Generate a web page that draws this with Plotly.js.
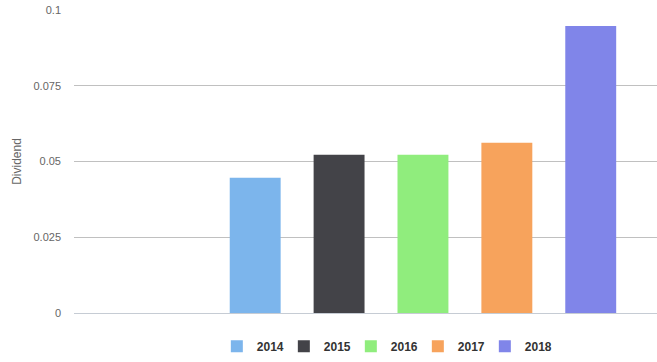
<!DOCTYPE html>
<html><head><meta charset="utf-8">
<script src="https://cdn.plot.ly/plotly-3.0.1.min.js"></script>
<style>html,body{margin:0;padding:0;background:#fff}#chart{width:657px;height:362px}</style>
</head><body><div id="chart"></div>
<script>
const years = [2014, 2015, 2016, 2017, 2018];
const labels = ["2014", "2015", "2016", "2017", "2018"];
const dividends = [0.0446, 0.0522, 0.0522, 0.0562, 0.0947];
const colors = ["#7cb5ec", "#434348", "#90ed7d", "#f7a35c", "#8085e9"];

const traces = years.map((y, i) => ({
  type: "bar",
  x: [y],
  y: [dividends[i]],
  name: labels[i],
  width: 0.607,
  marker: {color: colors[i]},
  hoverinfo: "x+y"
}));

const layout = {
  width: 657, height: 362,
  margin: {l: 74, r: 0, t: 10, b: 48.5, autoexpand: false},
  paper_bgcolor: "#fff", plot_bgcolor: "#fff",
  font: {family: "Liberation Sans, Arial, sans-serif", color: "#666", size: 11},
  barmode: "overlay",
  showlegend: true,
  xaxis: {
    range: [2011.84, 2018.79],
    showticklabels: false, showgrid: false, zeroline: false,
    showline: true, linecolor: "#c6ccd4", linewidth: 1, ticks: ""
  },
  yaxis: {
    range: [0, 0.1],
    tickvals: [0, 0.025, 0.05, 0.075, 0.1],
    ticktext: ["0", "0.025", "0.05", "0.075", "0.1"],
    showgrid: true, gridcolor: "#c0c0c0", gridwidth: 1,
    zeroline: false, showline: false, ticks: "",
    ticklabelstandoff: 12,
    tickfont: {size: 11, color: "#666"},
    title: {text: "Dividend", font: {size: 12, color: "#666"}, standoff: 9}
  },
  legend: {
    orientation: "h",
    x: 0.245, xanchor: "left",
    y: -0.062, yanchor: "top",
    font: {size: 12, color: "#333", weight: "bold"},
    entrywidth: 22, entrywidthmode: "pixels",
    itemwidth: 30,
    bgcolor: "rgba(0,0,0,0)"
  }
};

Plotly.newPlot("chart", traces, layout, {displayModeBar: false, staticPlot: true});
</script>
</body></html>
